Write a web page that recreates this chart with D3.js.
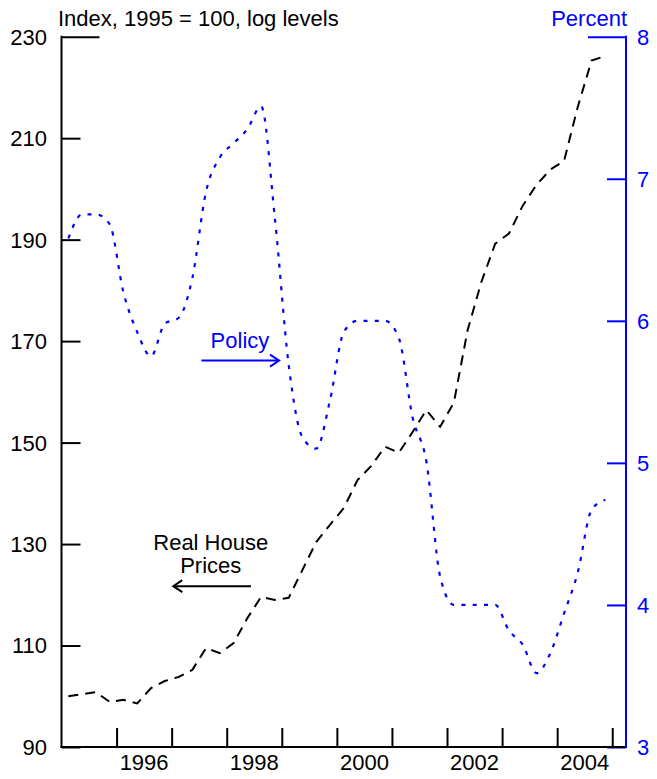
<!DOCTYPE html>
<html>
<head>
<meta charset="utf-8">
<script src="https://cdn.jsdelivr.net/npm/d3@7"></script>
<style>
  html, body { margin: 0; padding: 0; background: #fff; }
  svg { display: block; font-family: "Liberation Sans", Arial, sans-serif; }
</style>
</head>
<body>
<svg id="chart" width="657" height="779"></svg>
<script>
// ---------- data ----------
const years = [1995, 1996, 1997, 1998, 1999, 2000, 2001, 2002, 2003, 2004];
const quarterNames = ["Q1", "Q2", "Q3", "Q4"];
const quarters = years.flatMap(y => quarterNames.map(q => y + q));

// Real house prices, index 1995 = 100 (quarterly)
const housePrices = [
  100.0, 100.4, 100.8, 98.9,
  99.3, 98.6, 101.6, 103.0,
  103.8, 105.2, 109.5, 108.5,
  110.5, 115.4, 119.6, 119.0,
  119.4, 124.9, 130.4, 133.8,
  137.1, 142.6, 145.4, 149.2,
  148.0, 152.1, 156.4, 153.1,
  157.9, 172.2, 181.7, 189.2,
  191.2, 196.7, 200.8, 203.8,
  205.5, 216.2, 225.3, 226.2
];

// Policy rate, percent (quarterly)
const policyRate = [
  6.58, 6.75, 6.75, 6.68,
  6.20, 5.92, 5.75, 5.98,
  6.02, 6.30, 6.91, 7.15,
  7.25, 7.35, 7.51, 6.72,
  5.69, 5.18, 5.10, 5.44,
  5.92, 6.00, 6.00, 6.00,
  5.88, 5.32, 5.01, 4.20,
  4.00, 4.00, 4.00, 4.00,
  3.82, 3.72, 3.52, 3.66,
  3.94, 4.23, 4.67, 4.74
];

const leftTicks = [90, 110, 130, 150, 170, 190, 210, 230];
const rightTicks = [3, 4, 5, 6, 7, 8];
const yearTicks = [1996, 1997, 1998, 1999, 2000, 2001, 2002, 2003, 2004, 2005];
const yearLabels = [1996, 1998, 2000, 2002, 2004];

// ---------- layout ----------
const M = { left: 61.5, right: 626, top: 36.7, bottom: 747 };
const BLUE = "#0000ff";
const svg = d3.select("#chart");

const qTime = quarters.map(s => +s.slice(0, 4) + (+s.slice(5) - 0.5) / 4);

const x = d3.scaleLinear().domain([1995, 2005.25]).range([M.left, M.right]);
const yL = d3.scaleLinear().domain([90, 230]).range([M.bottom, M.top]);
const yR = d3.scaleLinear().domain([3, 8]).range([M.bottom, M.top]);

// ---------- axes ----------
const axisL = d3.axisRight(yL).tickValues(leftTicks).tickSize(19).tickFormat("");
const gL = svg.append("g").attr("transform", `translate(${M.left},0)`).call(axisL);
gL.select(".domain").remove();
gL.selectAll(".tick line").attr("stroke", "#000").attr("stroke-width", 2)
  .attr("x2", d => d === 230 ? 38 : 19);

const axisR = d3.axisLeft(yR).tickValues(rightTicks).tickSize(19).tickFormat("");
const gR = svg.append("g").attr("transform", `translate(${M.right},0)`).call(axisR);
gR.select(".domain").remove();
gR.selectAll(".tick line").attr("stroke", BLUE).attr("stroke-width", 2)
  .attr("x2", d => d === 8 ? -38 : -19);

const axisB = d3.axisTop(x).tickValues(yearTicks).tickSize(19).tickFormat("");
const gB = svg.append("g").attr("transform", `translate(0,${M.bottom})`).call(axisB);
gB.select(".domain").remove();
gB.selectAll(".tick line").attr("stroke", "#000").attr("stroke-width", 2);

// axis lines
svg.append("line").attr("x1", M.left).attr("x2", M.left).attr("y1", M.top - 1).attr("y2", M.bottom + 1)
  .attr("stroke", "#000").attr("stroke-width", 2);
svg.append("line").attr("x1", M.left - 1).attr("x2", M.right).attr("y1", M.bottom).attr("y2", M.bottom)
  .attr("stroke", "#000").attr("stroke-width", 2);
svg.append("line").attr("x1", M.right).attr("x2", M.right).attr("y1", M.top - 1).attr("y2", M.bottom + 1)
  .attr("stroke", BLUE).attr("stroke-width", 2);

// tick labels
svg.append("g").selectAll("text").data(leftTicks).join("text")
  .attr("x", 47).attr("y", d => yL(d)).attr("dy", "0.36em")
  .attr("text-anchor", "end").attr("font-size", 22).attr("fill", "#000")
  .text(d => d);

svg.append("g").selectAll("text").data(rightTicks).join("text")
  .attr("x", 637).attr("y", d => yR(d)).attr("dy", "0.36em")
  .attr("text-anchor", "start").attr("font-size", 22).attr("fill", BLUE)
  .text(d => d);

svg.append("g").selectAll("text").data(yearLabels).join("text")
  .attr("x", d => x(d + 0.5)).attr("y", 770)
  .attr("text-anchor", "middle").attr("font-size", 22).attr("fill", "#000")
  .text(d => d);

svg.append("text").attr("x", 58).attr("y", 26).attr("font-size", 22).attr("fill", "#000")
  .text("Index, 1995 = 100, log levels");
svg.append("text").attr("x", 627).attr("y", 26).attr("text-anchor", "end")
  .attr("font-size", 22).attr("fill", BLUE).text("Percent");

// ---------- lines ----------
const houseLine = d3.line().x((d, i) => x(qTime[i])).y(d => yL(d)).curve(d3.curveLinear);
svg.append("path").datum(housePrices).attr("d", houseLine)
  .attr("fill", "none").attr("stroke", "#000").attr("stroke-width", 2)
  .attr("stroke-dasharray", "10,7");

const policyLine = d3.line().x((d, i) => x(qTime[i])).y(d => yR(d)).curve(d3.curveMonotoneX);
svg.append("path").datum(policyRate).attr("d", policyLine)
  .attr("fill", "none").attr("stroke", BLUE).attr("stroke-width", 2.2)
  .attr("stroke-dasharray", "4,7.3");

// ---------- annotations ----------
function arrow(x1, y1, x2, y2, color) {
  const g = svg.append("g").attr("stroke", color).attr("stroke-width", 2).attr("fill", "none");
  g.append("line").attr("x1", x1).attr("y1", y1).attr("x2", x2).attr("y2", y2);
  const dir = Math.sign(x2 - x1);
  g.append("path").attr("d", `M${x2 - dir * 9},${y2 - 6}L${x2},${y2}L${x2 - dir * 9},${y2 + 6}`);
}

// Policy label
svg.append("text").attr("x", x(1998.24)).attr("y", yR(5.81)).attr("text-anchor", "middle")
  .attr("font-size", 22).attr("fill", BLUE).text("Policy");
arrow(x(1997.54), yR(5.72), x(1998.95), yR(5.72), BLUE);

// Real house prices label
svg.append("text").attr("x", x(1997.71)).attr("y", yL(128.85)).attr("text-anchor", "middle")
  .attr("font-size", 22).attr("fill", "#000").text("Real House");
svg.append("text").attr("x", x(1997.71)).attr("y", yL(124.3)).attr("text-anchor", "middle")
  .attr("font-size", 22).attr("fill", "#000").text("Prices");
arrow(x(1998.44), yL(121.7), x(1997.03), yL(121.7), "#000");
</script>
</body>
</html>
